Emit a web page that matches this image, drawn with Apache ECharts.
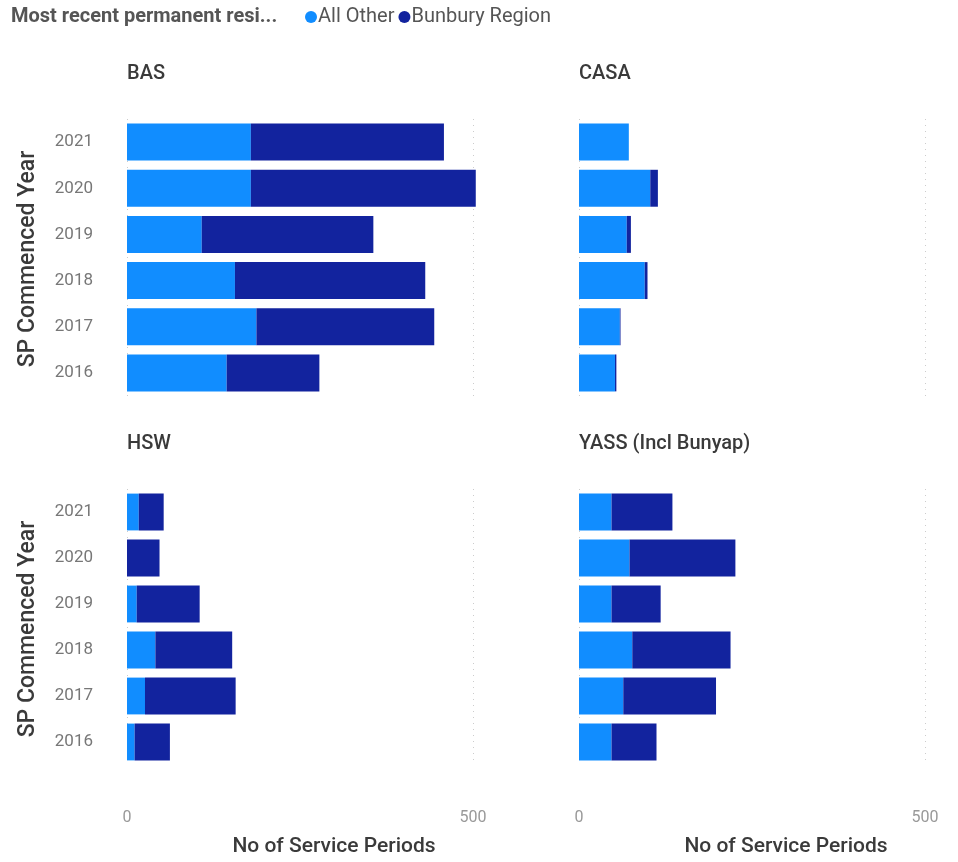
<!DOCTYPE html>
<html>
<head>
<meta charset="utf-8">
<script src="https://cdn.jsdelivr.net/npm/echarts@6/dist/echarts.min.js"></script>
<style>
  html, body { margin: 0; padding: 0; background: #fff; }
  #chart { width: 958px; height: 862px; }
</style>
</head>
<body>
<div id="chart"></div>
<script>
// years bottom -> top
const years = ['2016', '2017', '2018', '2019', '2020', '2021'];
const panels = ['BAS', 'CASA', 'HSW', 'YASS (Incl Bunyap)'];

// values per panel, same order as years
const allOther = {
  'BAS': [144, 187, 156, 108, 179, 179],
  'CASA': [52, 59, 95, 69, 103, 72],
  'HSW': [11, 26, 41, 14, 0, 17],
  'YASS (Incl Bunyap)': [47, 64, 77, 47, 73, 47],
};
const bunbury = {
  'BAS': [134, 257, 275, 248, 325, 279],
  'CASA': [2, 1, 4, 6, 11, 0],
  'HSW': [51, 131, 111, 91, 47, 36],
  'YASS (Incl Bunyap)': [65, 134, 142, 71, 153, 88],
};

const LIGHT = '#118DFF';
const DARK = '#12239E';
const FONT = 'Roboto, "Noto Sans", sans-serif';
const TITLE_COLOR = '#3a3a3a';

const chart = echarts.init(document.getElementById('chart'), null, { renderer: 'canvas' });

const layout = [
  { left: 127, top: 119, height: 277, width: 346, bottom: false, yLabels: true },
  { left: 579, top: 119, height: 277, width: 346, bottom: false, yLabels: false },
  { left: 127, top: 489, height: 276, width: 346, bottom: true, yLabels: true },
  { left: 579, top: 489, height: 276, width: 346, bottom: true, yLabels: false },
];

const grid = layout.map((g) => ({ left: g.left, top: g.top, width: g.width, height: g.height }));

const xAxis = layout.map((g, i) => ({
  type: 'value',
  gridIndex: i,
  min: 0,
  max: 500,
  interval: 500,
  axisLine: { show: false },
  axisTick: { show: false },
  axisLabel: {
    show: g.bottom,
    margin: 45,
    color: '#999',
    fontSize: 16,
    fontFamily: FONT,
  },
  splitLine: { show: true, lineStyle: { type: [1, 5], color: '#ccc', width: 1 } },
}));

const yAxis = layout.map((g, i) => ({
  type: 'category',
  gridIndex: i,
  data: years,
  axisLine: { show: false },
  axisTick: { show: false },
  axisLabel: {
    show: g.yLabels,
    margin: 34,
    color: '#777',
    fontSize: 17,
    fontFamily: FONT,
  },
}));

const series = [];
panels.forEach((p, i) => {
  series.push({
    name: 'All Other',
    type: 'bar',
    stack: 'p' + i,
    xAxisIndex: i,
    yAxisIndex: i,
    data: allOther[p],
    barCategoryGap: '20%',
    clip: false,
    itemStyle: { color: LIGHT },
  });
  series.push({
    name: 'Bunbury Region',
    type: 'bar',
    stack: 'p' + i,
    xAxisIndex: i,
    yAxisIndex: i,
    data: bunbury[p],
    barCategoryGap: '20%',
    clip: false,
    itemStyle: { color: DARK },
  });
});

const titles = panels.map((p, i) => ({
  text: p,
  left: layout[i].left,
  top: layout[i].top - 55,
  padding: 0,
  textStyle: { fontSize: 20, fontWeight: 500, color: TITLE_COLOR, fontFamily: FONT },
}));

const graphic = [
  {
    type: 'text', x: 11, y: 17,
    style: {
      text: 'Most recent permanent resi...',
      fontSize: 20, fontWeight: 'bold', fontFamily: FONT,
      fill: '#555', verticalAlign: 'middle',
    },
  },
];
[259, 629].forEach((cy) => {
  graphic.push({
    type: 'text', x: 28, y: cy, rotation: Math.PI / 2,
    style: {
      text: 'SP Commenced Year', fontSize: 23, fontWeight: 500, fontFamily: FONT,
      fill: TITLE_COLOR, align: 'center', verticalAlign: 'middle',
    },
  });
});
[334, 786].forEach((cx) => {
  graphic.push({
    type: 'text', x: cx, y: 847,
    style: {
      text: 'No of Service Periods', fontSize: 21, fontWeight: 500, fontFamily: FONT,
      fill: TITLE_COLOR, align: 'center', verticalAlign: 'middle',
    },
  });
});

chart.setOption({
  animation: false,
  title: titles,
  legend: {
    left: 305,
    top: 7,
    padding: 0,
    icon: 'circle',
    itemWidth: 12,
    itemHeight: 12,
    itemGap: 4,
    data: ['All Other', 'Bunbury Region'],
    textStyle: { fontSize: 20, color: '#555', fontFamily: FONT, padding: [0, 0, 0, -4] },
  },
  grid,
  xAxis,
  yAxis,
  series,
  graphic,
});
</script>
</body>
</html>
